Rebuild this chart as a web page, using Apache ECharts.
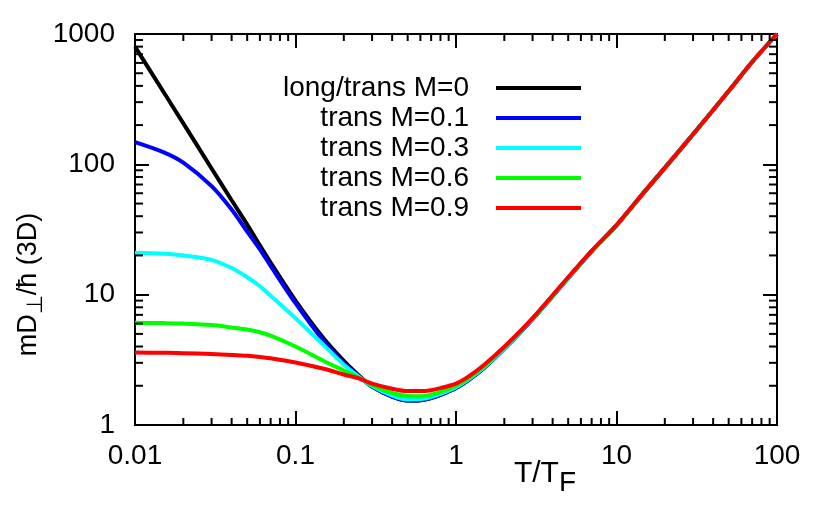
<!DOCTYPE html>
<html>
<head>
<meta charset="utf-8">
<script src="https://cdn.jsdelivr.net/npm/echarts@6/dist/echarts.min.js"></script>
<style>html,body{margin:0;padding:0;background:#fff}#main{width:830px;height:521px}</style>
</head>
<body>
<div id="main"></div>
<script>
// T/T_F grid and curves
var temps = [0.01,0.015,0.02,0.03,0.04,0.05,0.06,0.07,0.1,0.15,0.2,0.25,0.3,0.4,0.5,0.6,0.7,0.8,1,1.2,1.5,2,3,5,7,10,15,20,30,50,70,100];
var m0   = [800,362,206,93,53,34.5,23.9,17.6,9.0,4.6,3.1,2.38,1.97,1.65,1.54,1.55,1.61,1.70,1.92,2.22,2.75,3.85,6.5,13.4,21.5,34,62,94,170,365,610,1000];
var m01  = [148,124,103,68,45,30.5,22.3,16.6,8.6,4.4,3.0,2.35,1.97,1.65,1.54,1.55,1.61,1.70,1.92,2.22,2.75,3.85,6.5,13.4,21.5,34,62,94,170,365,610,1000];
var m03  = [21,20.6,20,18.5,16,13.6,11.6,9.8,6.6,4.1,2.9,2.33,1.99,1.68,1.57,1.58,1.64,1.73,1.95,2.25,2.78,3.88,6.52,13.4,21.5,34,62,94,170,365,610,1000];
var m06  = [6.1,6.05,6.0,5.85,5.6,5.4,5.15,4.85,4.0,3.1,2.62,2.3,2.02,1.76,1.67,1.66,1.71,1.79,2.0,2.29,2.83,3.92,6.55,13.5,21.6,34,62,94,170,365,610,1000];
var m09  = [3.6,3.58,3.56,3.5,3.45,3.4,3.33,3.25,3.02,2.7,2.44,2.27,2.08,1.9,1.82,1.82,1.85,1.92,2.08,2.36,2.9,3.98,6.6,13.6,21.7,34.2,62,94,170,365,610,1000];
var names = ['long/trans M=0','trans M=0.1','trans M=0.3','trans M=0.6','trans M=0.9'];
var colors = ['#000000','#0000ff','#00ffff','#00ff00','#ff0000'];
var curves = [m0, m01, m03, m06, m09];
var xDecades = [0.01, 0.1, 1, 10];
var yDecades = [1, 10, 100];

var chart = echarts.init(document.getElementById('main'));
var font = 'Liberation Sans';

var series = [];
for (var i = 0; i < curves.length; i++) {
  var d = [];
  for (var j = 0; j < temps.length; j++) d.push([temps[j], curves[i][j]]);
  series.push({
    name: names[i],
    type: 'line',
    data: d,
    symbol: 'none',
    smooth: 0.3,
    animation: false,
    lineStyle: {color: colors[i], width: 4},
    itemStyle: {color: colors[i]}
  });
}

function fmt(v) { return String(Number(v.toPrecision(6))); }

var option = {
  backgroundColor: '#fff',
  animation: false,
  grid: {left: 135, right: 53, top: 34, bottom: 96},
  legend: {
    orient: 'vertical',
    align: 'right',
    icon: 'rect',
    right: 244,
    top: 69,
    itemWidth: 85,
    itemHeight: 4,
    itemGap: 2,
    data: names,
    textStyle: {fontFamily: font, fontSize: 28, color: '#000', padding: [0, 22, 0, 0]}
  },
  xAxis: [{
    type: 'log', logBase: 10, min: 0.01, max: 100,
    name: '{a|T/T}{b|F}',
    nameLocation: 'middle',
    nameMoveOverlap: false,
    nameGap: 26,
    nameTextStyle: {
      fontFamily: font, fontSize: 30,
      padding: [0, 0, 0, 178],
      rich: {
        a: {fontFamily: font, fontSize: 30, color: '#000'},
        b: {fontFamily: font, fontSize: 28, color: '#000', padding: [18, 0, 0, 0]}
      }
    },
    axisLine: {lineStyle: {color: '#000', width: 2}},
    axisTick: {inside: true, length: 14, lineStyle: {color: '#000', width: 2}},
    axisLabel: {fontFamily: font, fontSize: 28, color: '#000', margin: 17, formatter: fmt},
    splitLine: {show: false}
  }, {
    type: 'log', logBase: 10, min: 0.01, max: 100, position: 'top',
    axisLine: {lineStyle: {color: '#000', width: 2}},
    axisTick: {inside: true, length: 14, lineStyle: {color: '#000', width: 2}},
    axisLabel: {show: false},
    splitLine: {show: false}
  }],
  yAxis: [{
    type: 'log', logBase: 10, min: 1, max: 1000,
    name: '{a|mD}{s|⊥}{a|/ħ (3D)}',
    nameLocation: 'middle',
    nameMoveOverlap: false,
    nameRotate: 90,
    nameGap: 88,
    nameTextStyle: {
      fontFamily: font, fontSize: 27,
      padding: [0, 110, 0, 0],
      rich: {
        a: {fontFamily: font, fontSize: 27, color: '#000'},
        s: {fontFamily: font, fontSize: 22, color: '#000', padding: [14, 0, 0, 0]}
      }
    },
    axisLine: {lineStyle: {color: '#000', width: 2}},
    axisTick: {inside: true, length: 14, lineStyle: {color: '#000', width: 2}},
    axisLabel: {fontFamily: font, fontSize: 28, color: '#000', margin: 20, formatter: fmt},
    splitLine: {show: false}
  }, {
    type: 'log', logBase: 10, min: 1, max: 1000, position: 'right',
    axisLine: {lineStyle: {color: '#000', width: 2}},
    axisTick: {inside: true, length: 14, lineStyle: {color: '#000', width: 2}},
    axisLabel: {show: false},
    splitLine: {show: false}
  }],
  series: series
};
chart.setOption(option);

// minor ticks (2..9 in every decade) on all four sides, placed through the series' scales
function toPx(x, y) { return chart.convertToPixel({seriesIndex: 0}, [x, y]); }
var lo = toPx(0.01, 1);
var hi = toPx(100, 1000);
var els = [];
function tick(x1, y1, x2, y2) {
  els.push({type: 'line', silent: true, z: 100, shape: {x1: x1, y1: y1, x2: x2, y2: y2}, style: {stroke: '#000', lineWidth: 2}});
}
xDecades.forEach(function (dec) {
  for (var k = 2; k <= 9; k++) {
    var px = toPx(dec * k, 1)[0];
    tick(px, lo[1], px, lo[1] - 7);
    tick(px, hi[1], px, hi[1] + 7);
  }
});
yDecades.forEach(function (dec) {
  for (var k = 2; k <= 9; k++) {
    var py = toPx(0.01, dec * k)[1];
    tick(lo[0], py, lo[0] + 8, py);
    tick(hi[0], py, hi[0] - 8, py);
  }
});
chart.setOption({graphic: {elements: els}});
</script>
</body>
</html>
